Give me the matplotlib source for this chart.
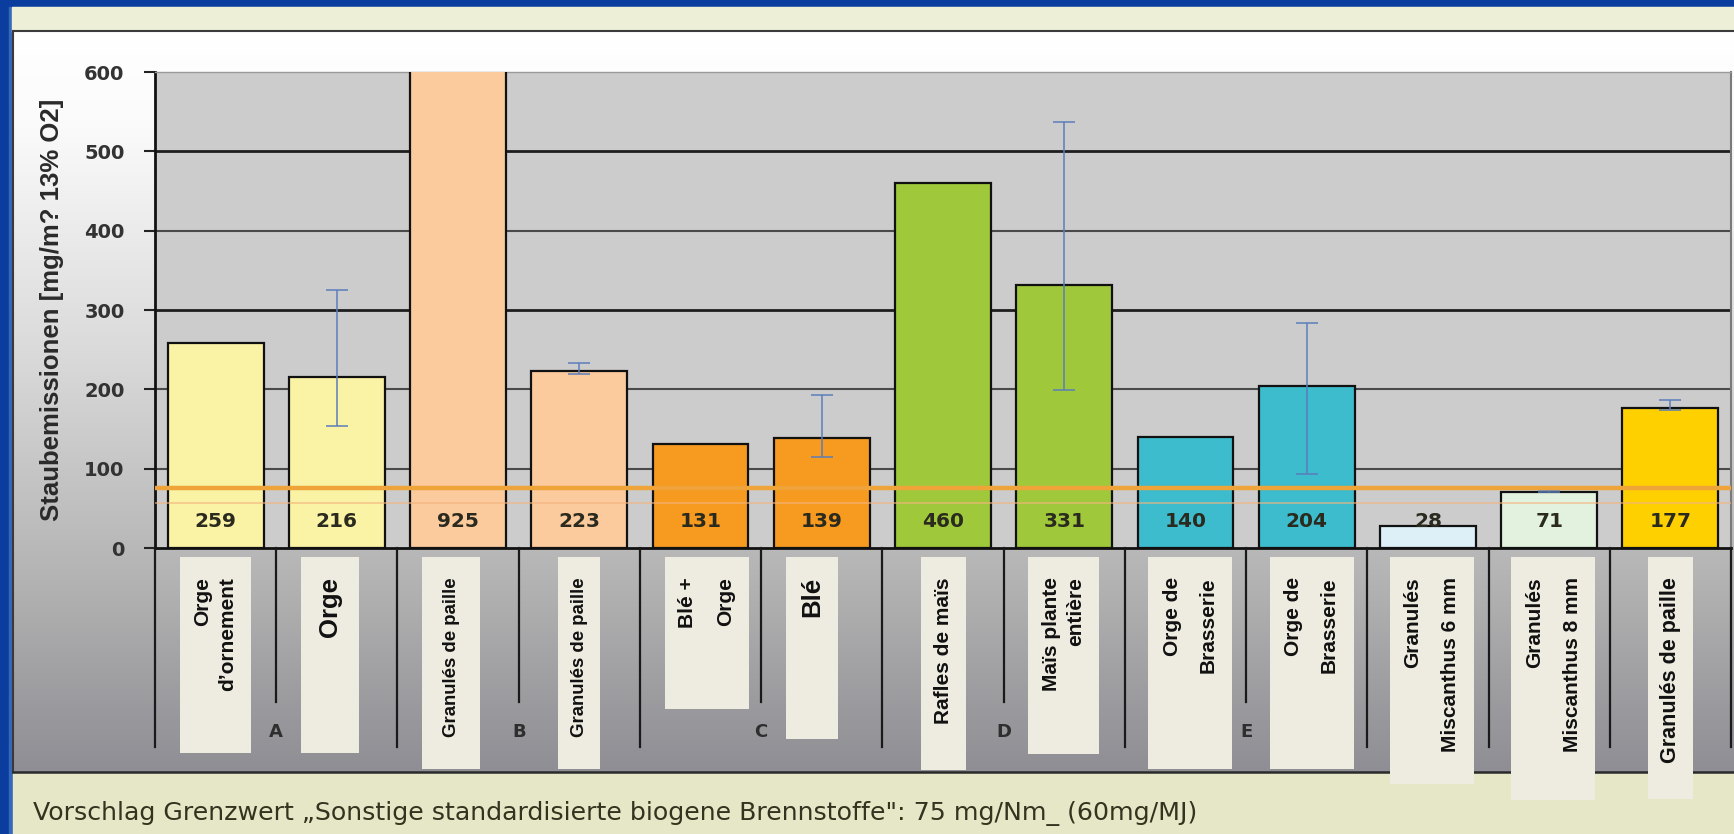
import numpy as np
import matplotlib
matplotlib.use("Agg")
import matplotlib.pyplot as plt
from matplotlib.patches import Rectangle
from matplotlib.lines import Line2D
from matplotlib.colors import LinearSegmentedColormap
from matplotlib.transforms import blended_transform_factory

# ---------------- data ----------------
categories = ["Orge\nd’ornement", "Orge", "Granulés de paille", "Granulés de paille",
              "Blé +\nOrge", "Blé", "Rafles de maïs", "Maïs plante\nentière",
              "Orge de\nBrasserie", "Orge de\nBrasserie", "Granulés\nMiscanthus 6 mm",
              "Granulés\nMiscanthus 8 mm", "Granulés de paille"]
values = [259, 216, 925, 223, 131, 139, 460, 331, 140, 204, 28, 71, 177]
err_low = [None, 154, None, 219, None, 115, None, 199, None, 93, None, 70, 174]
err_high = [None, 325, None, 233, None, 193, None, 537, None, 284, None, 73, 187]
groups = ["A", "A", "B", "B", "C", "C", "D", "D", "E", "E", "", "", ""]
limit_value = 76
limit_value_mj = 57
y_ticks = [0, 100, 200, 300, 400, 500, 600]
y_label = "Staubemissionen [mg/m? 13% O2]"
footer = "Vorschlag Grenzwert „Sonstige standardisierte biogene Brennstoffe\": 75 mg/Nm_ (60mg/MJ)"

# ---------------- style ----------------
bar_colors = ["#FAF2A4", "#FAF2A4", "#FBCB9E", "#FBCB9E", "#F79A20", "#F79A20",
              "#9FC93A", "#9FC93A", "#3CBCCC", "#3CBCCC", "#DDF0F8", "#E3F2DE", "#FFD000"]
box_w_px = [71, 58, 58, 42, 84, 52, 45, 71, 84, 84, 84, 84, 45]
box_dx_px = [0, -7, -7, 0, 6, -10, 0, -1, 5, 5, 4, 4, 0]
box_bottom_px = [753, 753, 769, 769, 709, 739, 770, 754, 769, 769, 784, 800, 799]
label_size = [15, 18.5, 13.4, 13.4, 15, 18.5, 15, 15, 15, 15, 15, 15, 15.5]
label_ls = [1.4, 1, 1, 1, 2.25, 1, 1, 1.35, 2.1, 2.1, 2.25, 2.25, 1]

W, H = 1734, 834
fig = plt.figure(figsize=(W / 100, H / 100), dpi=100, facecolor="#0B3D9E")


def fx(px):
    return px / W


def fy(py):
    return 1 - py / H


# background frame
bg = fig.add_axes([0, 0, 1, 1], zorder=-1)
bg.set_xlim(0, W)
bg.set_ylim(H, 0)
bg.axis("off")
bg.add_patch(Rectangle((9, 7), W - 9, H - 7, color="#3568B9"))
bg.add_patch(Rectangle((12, 7), W - 12, 25, color="#EDEFD6"))
cmap = LinearSegmentedColormap.from_list(
    "panel", [(0, "#FFFFFF"), (0.12, "#FBFBFB"), (0.45, "#D8D8D8"), (0.75, "#B2B2B2"), (1, "#8E8E94")])
grad = np.linspace(0, 1, 256)[:, None]
bg.imshow(grad, extent=[13, W, 772, 31], aspect="auto", cmap=cmap, origin="upper", zorder=1)
bg.add_patch(Rectangle((13, 773), W - 13, H - 773, color="#E6E7C6", zorder=1))
bg.plot([13, W], [31, 31], color="#3A3A3A", lw=1.5, zorder=2)
bg.plot([13, 13], [31, 772], color="#3A3A3A", lw=1.5, zorder=2)
bg.plot([13, W], [772, 772], color="#2A2A2A", lw=1.8, zorder=2)

# main axes
ax = fig.add_axes([fx(155), fy(548), fx(1731) - fx(155), fy(72) - fy(548)], zorder=1)
ax.set_facecolor("#CCCCCC")
x = np.arange(len(values))
ax.set_xlim(-0.5, len(values) - 0.5)
ax.set_ylim(y_ticks[0], y_ticks[-1])

for t in y_ticks[1:-1]:
    dark = t in (300, 500)
    ax.axhline(t, color="#1E1E1E" if dark else "#4A4A4A", lw=2 if dark else 1.5, zorder=1)

ax.bar(x, values, width=0.79, color=bar_colors, edgecolor="#111111", linewidth=1.6, zorder=3)

idx = [i for i in range(len(values)) if err_low[i] is not None]
ax.errorbar(x[idx], [values[i] for i in idx],
            yerr=[[values[i] - err_low[i] for i in idx], [err_high[i] - values[i] for i in idx]],
            fmt="none", ecolor="#5B7DBA", elinewidth=1.1, capsize=8, capthick=1.1, zorder=4)

ax.axhline(limit_value, color="#EFA43A", lw=3.2, zorder=5)
ax.axhline(limit_value_mj, color="#F3B47E", lw=1.2, alpha=0.7, zorder=5)

for i, v in enumerate(values):
    ax.text(i, 34, str(v), ha="center", va="center", fontsize=14.5, fontweight="bold",
            family="DejaVu Sans", color="#2A2A1E", zorder=6)

ax.set_xticks([])
ax.set_yticks(y_ticks)
ax.tick_params(axis="y", length=8, width=1.5, color="#222222", pad=14,
               labelsize=14, labelcolor="#333333")
for lbl in ax.get_yticklabels():
    lbl.set_fontweight("bold")
    lbl.set_family("DejaVu Sans")
ax.spines["left"].set_color("#111111")
ax.spines["left"].set_linewidth(2)
ax.spines["bottom"].set_color("#111111")
ax.spines["bottom"].set_linewidth(2)
ax.spines["top"].set_color("#9A9A9A")
ax.spines["top"].set_linewidth(1)
ax.spines["right"].set_color("#7A7A7A")
ax.spines["right"].set_linewidth(1.5)

# category axis: separators and group letters
trans = blended_transform_factory(ax.transData, fig.transFigure)
n = len(values)
for b in range(n + 1):
    inner = 0 < b < n and groups[b - 1] == groups[b] and groups[b] != ""
    end = 702 if inner else 747
    fig.add_artist(Line2D([b - 0.5, b - 0.5], [fy(548), fy(end)], transform=trans,
                          color="#1A1A1A", lw=1.6, zorder=5))
    if inner:
        fig.text(b - 0.5, fy(732), groups[b], transform=trans, ha="center", va="center",
                 fontsize=13, fontweight="bold", color="#2E2E2E", zorder=6)

# label boxes
px_per_unit = (1731 - 155) / n
for i, lab in enumerate(categories):
    cx = i + box_dx_px[i] / px_per_unit
    w = box_w_px[i] / px_per_unit
    fig.add_artist(Rectangle((cx - w / 2, fy(box_bottom_px[i])), w, fy(557) - fy(box_bottom_px[i]),
                             transform=trans, facecolor="#EEEBE0", edgecolor="none", zorder=10))
    fig.text(cx, fy(577), lab, transform=trans, rotation=90, rotation_mode="anchor",
             ha="right", va="center", multialignment="right", fontsize=label_size[i],
             linespacing=label_ls[i], fontweight="bold", family="Liberation Sans",
             color="#111111", zorder=11)

fig.text(fx(52), fy(310), y_label, rotation=90, ha="center", va="center", fontsize=18.5,
         fontweight="bold", family="Liberation Sans", color="#2A2A2A")
fig.text(fx(33), fy(813), footer, ha="left", va="center", fontsize=18.2,
         family="DejaVu Sans", color="#33331F")

fig.savefig("out.png", dpi=100, facecolor=fig.get_facecolor())
